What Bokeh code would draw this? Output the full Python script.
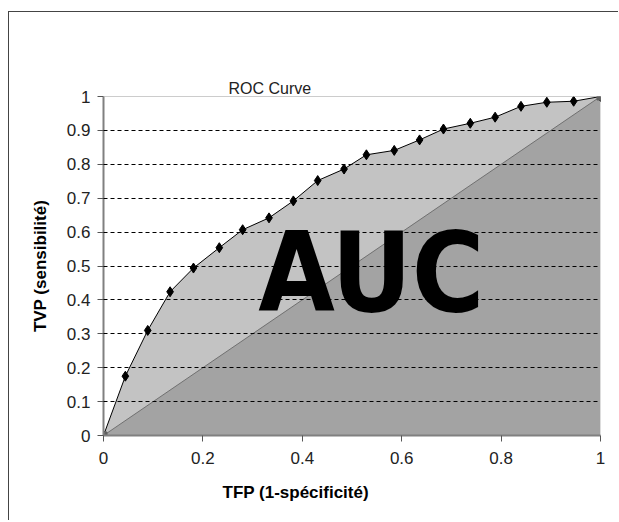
from bokeh.plotting import figure
from bokeh.models import FixedTicker, Span, Label, Title
from bokeh.embed import file_html
from bokeh.resources import INLINE

# ROC curve points (1 - specificity, sensitivity)
tfp = [0.0, 0.044, 0.089, 0.134, 0.181, 0.233, 0.280, 0.333, 0.382, 0.431, 0.484,
       0.529, 0.585, 0.636, 0.684, 0.738, 0.788, 0.840, 0.892, 0.946, 1.0]
tvp = [0.0, 0.175, 0.310, 0.424, 0.494, 0.554, 0.607, 0.642, 0.692, 0.752, 0.786,
       0.828, 0.841, 0.872, 0.904, 0.921, 0.939, 0.971, 0.983, 0.986, 1.0]

# chance diagonal
diag_x = [0.0, 1.0]
diag_y = [0.0, 1.0]

x_ticks = [0, 0.2, 0.4, 0.6, 0.8, 1]
x_tick_labels = ["0", "0.2", "0.4", "0.6", "0.8", "1"]
y_ticks = [0, 0.1, 0.2, 0.3, 0.4, 0.5, 0.6, 0.7, 0.8, 0.9, 1]
y_tick_labels = ["0", "0.1", "0.2", "0.3", "0.4", "0.5", "0.6", "0.7", "0.8", "0.9", "1"]
grid_ticks = [0.1, 0.2, 0.3, 0.4, 0.5, 0.6, 0.7, 0.8, 0.9]

title_text = "ROC Curve"
x_title = "TFP (1-spécificité)"
y_title = "TVP (sensibilité)"
area_text = "AUC"

p = figure(width=610, height=509, output_backend="svg", toolbar_location=None,
           x_range=(0, 1), y_range=(0, 1),
           min_border_left=94, min_border_right=19, min_border_top=84, min_border_bottom=86)
p.styles = {"margin-left": "8px", "margin-top": "11px",
            "border-top": "1px solid #444", "border-left": "1px solid #444"}
p.background_fill_color = "white"
p.border_fill_color = "white"
p.outline_line_color = None

# chart title, lifted with bottom padding
p.title = Title(text=title_text, align="left", offset=125, standoff=0,
                padding=(0, 0, 46, 0),
                text_font="Liberation Sans", text_font_size="16px",
                text_font_style="normal", text_color="#222222")

# areas
p.varea(x=tfp, y1=[0] * len(tfp), y2=tvp, fill_color="#c3c3c3")
p.varea(x=diag_x, y1=[0, 0], y2=diag_y, fill_color="#a3a3a3")

# grid on top of fills
p.xgrid.visible = False
p.ygrid.ticker = FixedTicker(ticks=grid_ticks)
p.ygrid.grid_line_color = "black"
p.ygrid.grid_line_dash = "4 3"
p.ygrid.grid_line_width = 1
p.ygrid.level = "overlay"

p.add_layout(Span(location=1, dimension="width", line_color="#999999", line_width=1))

# diagonal
p.line(diag_x, diag_y, line_color="#707070", line_width=1)
# ROC
p.line(tfp, tvp, line_color="black", line_width=1)
p.scatter(tfp, tvp, marker="diamond", size=10, fill_color="black", line_color="black")
p.scatter(diag_x, diag_y, marker="square", size=7, fill_color="#606060", line_color="#606060")

# axes
for ax in (p.xaxis, p.yaxis):
    ax.major_label_text_font = "Liberation Sans"
    ax.major_label_text_font_size = "17px"
    ax.major_label_text_color = "#222222"
    ax.axis_line_color = "#808080"
    ax.axis_line_width = 2
    ax.major_tick_line_color = "#555555"
    ax.major_tick_out = 6
    ax.major_tick_in = 0
    ax.minor_tick_line_color = None
p.xaxis.ticker = FixedTicker(ticks=x_ticks)
p.yaxis.ticker = FixedTicker(ticks=y_ticks)
p.xaxis.major_label_overrides = {t: l for t, l in zip(x_ticks, x_tick_labels)}
p.yaxis.major_label_overrides = {t: l for t, l in zip(y_ticks, y_tick_labels)}
p.xaxis.major_label_standoff = 10
p.yaxis.major_label_standoff = 7

p.yaxis.axis_label = y_title
p.yaxis.axis_label_text_font = "Liberation Sans"
p.yaxis.axis_label_text_font_size = "17px"
p.yaxis.axis_label_text_font_style = "bold"
p.yaxis.axis_label_text_color = "black"
p.yaxis.axis_label_standoff = 14

p.add_layout(Title(text=x_title, align="left", offset=119, standoff=28,
                   text_font="Liberation Sans", text_font_size="17px",
                   text_font_style="bold", text_color="black"), "below")

# AUC text inside the plot area
p.add_layout(Label(x=0.539, y=0.478, text=area_text, text_align="center", text_baseline="middle",
                   text_font="'DejaVu Sans Condensed', sans-serif",
                   text_font_size="110px", text_font_style="bold", text_color="black"))

open("out.html", "w").write(file_html(p, INLINE))
